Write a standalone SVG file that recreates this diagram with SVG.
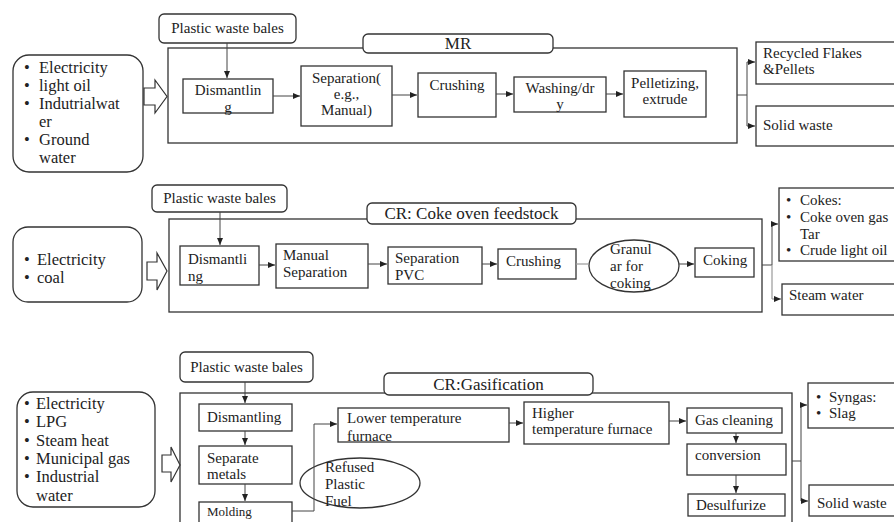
<svg xmlns="http://www.w3.org/2000/svg" width="894" height="522" viewBox="0 0 894 522" font-family="'Liberation Serif', Tinos, 'Times New Roman', 'DejaVu Serif', serif">
<defs>
<marker id="ah" markerWidth="8" markerHeight="8" refX="7" refY="4" orient="auto" markerUnits="userSpaceOnUse">
<path d="M0,1 L7,4 L0,7 Z" fill="#222"/>
</marker>
<style>
.box{fill:#fff;stroke:#333;stroke-width:1.3}
.frame{fill:none;stroke:#333;stroke-width:1.3}
.hol{fill:#fff;stroke:#333;stroke-width:1.2}
.t{font-size:15px;fill:#222}
.tc{font-size:15px;fill:#222;text-anchor:middle}
.tl{font-size:16.5px;fill:#222}
.tt{font-size:17px;fill:#222;text-anchor:middle}
.c{fill:none;stroke:#444;stroke-width:1}
.cg{fill:none;stroke:#999;stroke-width:1.2}
</style>
</defs>
<rect width="894" height="522" fill="#fff"/>

<!-- Section 1: MR -->
<g id="mr-frame"><rect class="frame" x="168" y="48" width="569" height="95"/></g>
<g id="mr-title"><rect class="box" x="363" y="34" width="190" height="19" rx="5"/><text class="tt" x="458" y="49">MR</text></g>
<g id="mr-bales"><rect class="box" x="159" y="14" width="137" height="29" rx="5"/><text class="tc" x="227.5" y="33">Plastic waste bales</text></g>
<g id="mr-input"><rect class="box" x="13" y="55" width="130" height="117" rx="16"/>
<text class="tl"><tspan x="24" y="73">•</tspan><tspan x="39" y="73">Electricity</tspan><tspan x="24" y="91">•</tspan><tspan x="39" y="91">light oil</tspan><tspan x="24" y="109">•</tspan><tspan x="39" y="109">Indutrialwat</tspan><tspan x="39" y="127">er</tspan><tspan x="24" y="145">•</tspan><tspan x="39" y="145">Ground</tspan><tspan x="39" y="163">water</tspan></text></g>
<g id="mr-hollow"><path class="hol" d="M144,88 H155 V80 L167,96.5 L155,113 V105 H144 Z"/></g>
<g id="mr-dismantling"><rect class="box" x="183" y="79" width="90" height="34"/><text class="tc"><tspan x="228" y="95">Dismantlin</tspan><tspan x="228" y="112">g</tspan></text></g>
<g id="mr-separation"><rect class="box" x="301" y="66" width="91" height="60"/><text class="tc"><tspan x="346.5" y="83">Separation(</tspan><tspan x="346.5" y="99">e.g.,</tspan><tspan x="346.5" y="115">Manual)</tspan></text></g>
<g id="mr-crushing"><rect class="box" x="418" y="73" width="78" height="44"/><text class="tc" x="457" y="90">Crushing</text></g>
<g id="mr-washing"><rect class="box" x="514" y="77" width="92" height="35"/><text class="tc"><tspan x="560" y="93">Washing/dr</tspan><tspan x="560" y="109">y</tspan></text></g>
<g id="mr-pelletizing"><rect class="box" x="624" y="71" width="82" height="46"/><text class="tc"><tspan x="665" y="88">Pelletizing,</tspan><tspan x="665" y="104">extrude</tspan></text></g>
<g id="mr-recycled"><rect class="box" x="756" y="42" width="140" height="42"/><text class="t"><tspan x="763" y="58">Recycled Flakes</tspan><tspan x="763" y="74">&amp;Pellets</tspan></text></g>
<g id="mr-solid"><rect class="box" x="756" y="106" width="140" height="40"/><text class="t" x="763" y="130">Solid waste</text></g>

<!-- Section 2: Coke oven -->
<g id="co-frame"><rect class="frame" x="169" y="219" width="593" height="93"/></g>
<g id="co-title"><rect class="box" x="367" y="203" width="209" height="21" rx="5"/><text class="tt" x="471.5" y="219">CR: Coke oven feedstock</text></g>
<g id="co-bales"><rect class="box" x="152" y="185" width="135" height="27" rx="5"/><text class="tc" x="219.5" y="203">Plastic waste bales</text></g>
<g id="co-input"><rect class="box" x="13" y="227" width="129" height="75" rx="15"/>
<text class="tl"><tspan x="24" y="265">•</tspan><tspan x="37" y="265">Electricity</tspan><tspan x="24" y="283">•</tspan><tspan x="37" y="283">coal</tspan></text></g>
<g id="co-hollow"><path class="hol" d="M147,262 H157 V253 L167,271 L157,290 V280 H147 Z"/></g>
<g id="co-dismantling"><rect class="box" x="180" y="246" width="79" height="39"/><text class="t"><tspan x="188" y="264">Dismantli</tspan><tspan x="188" y="281">ng</tspan></text></g>
<g id="co-manual"><rect class="box" x="276" y="244" width="92" height="44"/><text class="t"><tspan x="283" y="260">Manual</tspan><tspan x="283" y="277">Separation</tspan></text></g>
<g id="co-pvc"><rect class="box" x="388" y="247" width="94" height="37"/><text class="t"><tspan x="395" y="263">Separation</tspan><tspan x="395" y="280">PVC</tspan></text></g>
<g id="co-crushing"><rect class="box" x="498" y="249" width="78" height="30"/><text class="t" x="506" y="266">Crushing</text></g>
<g id="co-granular"><ellipse class="box" cx="634" cy="266" rx="45" ry="26"/><text class="t"><tspan x="610" y="254">Granul</tspan><tspan x="610" y="271">ar for</tspan><tspan x="610" y="288">coking</tspan></text></g>
<g id="co-coking"><rect class="box" x="695" y="248" width="59" height="29"/><text class="t" x="703" y="265">Coking</text></g>
<g id="co-products"><rect class="box" x="779" y="188" width="117" height="73"/>
<text class="t"><tspan x="786" y="205">•</tspan><tspan x="800" y="205">Cokes:</tspan><tspan x="786" y="222">•</tspan><tspan x="800" y="222">Coke oven gas</tspan><tspan x="800" y="239">Tar</tspan><tspan x="786" y="255">•</tspan><tspan x="800" y="255">Crude light oil</tspan></text></g>
<g id="co-steam"><rect class="box" x="782" y="284" width="114" height="31"/><text class="t" x="789" y="300">Steam water</text></g>

<!-- Section 3: Gasification -->
<g id="ga-frame"><rect class="frame" x="180" y="393" width="612" height="140"/></g>
<g id="ga-title"><rect class="box" x="384" y="373" width="209" height="22" rx="5"/><text class="tt" x="488.5" y="390">CR:Gasification</text></g>
<g id="ga-bales"><rect class="box" x="180" y="352" width="133" height="30" rx="5"/><text class="tc" x="246.5" y="372">Plastic waste bales</text></g>
<g id="ga-input"><rect class="box" x="17" y="392" width="138" height="115" rx="16"/>
<text class="tl"><tspan x="24" y="409">•</tspan><tspan x="36" y="409">Electricity</tspan><tspan x="24" y="427">•</tspan><tspan x="36" y="427">LPG</tspan><tspan x="24" y="446">•</tspan><tspan x="36" y="446">Steam heat</tspan><tspan x="24" y="464">•</tspan><tspan x="36" y="464">Municipal gas</tspan><tspan x="24" y="482">•</tspan><tspan x="36" y="482">Industrial</tspan><tspan x="36" y="501">water</tspan></text></g>
<g id="ga-hollow"><path class="hol" d="M162,455 H171 V447 L180,465 L171,482 V472 H162 Z"/></g>
<g id="ga-dismantling"><rect class="box" x="199" y="404" width="93" height="27"/><text class="t" x="207" y="422">Dismantling</text></g>
<g id="ga-separate"><rect class="box" x="199" y="446" width="93" height="38"/><text class="t"><tspan x="207" y="463">Separate</tspan><tspan x="207" y="479">metals</tspan></text></g>
<g id="ga-molding"><rect class="box" x="199" y="502" width="93" height="30"/><text class="t" x="207" y="516" style="font-size:13px">Molding</text></g>
<g id="ga-refused"><ellipse class="box" cx="360" cy="483" rx="60" ry="25"/><text class="t"><tspan x="325" y="472">Refused</tspan><tspan x="325" y="489">Plastic</tspan><tspan x="325" y="506">Fuel</tspan></text></g>
<g id="ga-lower"><rect class="box" x="338" y="408" width="171" height="34"/><text class="t"><tspan x="347" y="423">Lower temperature</tspan><tspan x="347" y="441">furnace</tspan></text></g>
<g id="ga-higher"><rect class="box" x="524" y="402" width="145" height="42"/><text class="t"><tspan x="532" y="418">Higher</tspan><tspan x="532" y="434">temperature furnace</tspan></text></g>
<g id="ga-gascleaning"><rect class="box" x="687" y="408" width="95" height="25"/><text class="t" x="695" y="425">Gas cleaning</text></g>
<g id="ga-conversion"><rect class="box" x="687" y="444" width="99" height="31"/><text class="t" x="695" y="460">conversion</text></g>
<g id="ga-desulfurize"><rect class="box" x="688" y="494" width="97" height="22"/><text class="t" x="696" y="510">Desulfurize</text></g>
<g id="ga-syngas"><rect class="box" x="808" y="383" width="88" height="45"/><text class="t"><tspan x="816" y="402">•</tspan><tspan x="829" y="402">Syngas:</tspan><tspan x="816" y="418">•</tspan><tspan x="829" y="418">Slag</tspan></text></g>
<g id="ga-solid"><rect class="box" x="809" y="485" width="87" height="31"/><text class="t" x="817" y="508">Solid waste</text></g>

<!-- Connectors -->
<g id="connectors">
<path class="c" d="M227,43 V78" marker-end="url(#ah)"/>
<path class="c" d="M273,96 H300" marker-end="url(#ah)"/>
<path class="c" d="M392,95 H417" marker-end="url(#ah)"/>
<path class="c" d="M496,94 H513" marker-end="url(#ah)"/>
<path class="c" d="M606,94 H623" marker-end="url(#ah)"/>
<path class="c" d="M737,95 H747 M747,62 V126"/>
<path class="c" d="M747,62 H755" marker-end="url(#ah)"/>
<path class="c" d="M747,126 H755" marker-end="url(#ah)"/>

<path class="c" d="M220,212 V245" marker-end="url(#ah)"/>
<path class="c" d="M259,265 H275" marker-end="url(#ah)"/>
<path class="c" d="M368,264 H387" marker-end="url(#ah)"/>
<path class="c" d="M482,264 H497" marker-end="url(#ah)"/>
<path class="cg" d="M576,264 H589"/>
<path class="c" d="M679,264 H694" marker-end="url(#ah)"/>
<path class="c" d="M762,265 H772 M772,224 V265"/>
<path class="cg" d="M772,265 V299"/>
<path class="c" d="M772,224 H778" marker-end="url(#ah)"/>
<path class="cg" d="M772,299 H781" marker-end="url(#ah)"/>

<path class="c" d="M245,382 V403" marker-end="url(#ah)"/>
<path class="c" d="M245,431 V445" marker-end="url(#ah)"/>
<path class="c" d="M245,484 V501" marker-end="url(#ah)"/>
<path class="c" d="M292,511 H314 V424 H337" marker-end="url(#ah)"/>
<path class="c" d="M509,423 H523" marker-end="url(#ah)"/>
<path class="c" d="M669,421 H686" marker-end="url(#ah)"/>
<path class="c" d="M736,433 V443" marker-end="url(#ah)"/>
<path class="c" d="M736,475 V493" marker-end="url(#ah)"/>
<path class="c" d="M792,461 H801 M801,405 V501"/>
<path class="c" d="M801,405 H807" marker-end="url(#ah)"/>
<path class="c" d="M801,501 H808" marker-end="url(#ah)"/>
</g>
</svg>
